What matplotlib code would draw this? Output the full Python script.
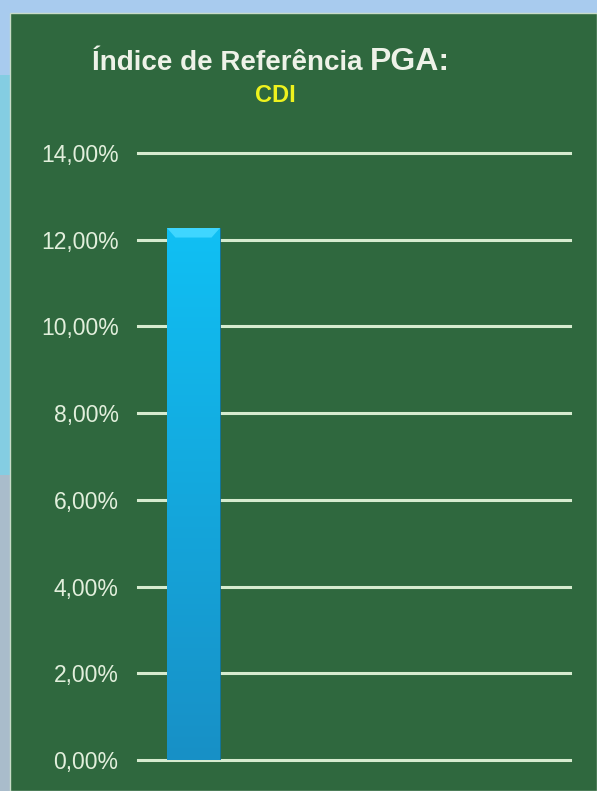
import matplotlib
matplotlib.use("Agg")
import matplotlib.pyplot as plt
from matplotlib.patches import Rectangle, Polygon
from matplotlib.ticker import FuncFormatter
import numpy as np

# dados
categorias = ["CDI"]
valores = [12.27]
yticks = [0, 2, 4, 6, 8, 10, 12, 14]

W, H = 597, 791
fig = plt.figure(figsize=(W / 100, H / 100), dpi=100)
fig.patch.set_facecolor("#a8cbee")
plt.rcParams["font.family"] = ["Liberation Sans", "DejaVu Sans"]

#-- fundo do slide (faixa esquerda)
fig.patches.append(Rectangle((0, 1 - 475 / H), 10 / W, 400 / H, transform=fig.transFigure,
                             facecolor="#84cde2", edgecolor="none", zorder=0))
fig.patches.append(Rectangle((0, 0), 10 / W, 1 - 475 / H, transform=fig.transFigure,
                             facecolor="#a9bccb", edgecolor="none", zorder=0))
#-- painel verde
fig.patches.append(Rectangle((10 / W, 0), 1 - 10 / W, 1 - 13 / H, transform=fig.transFigure,
                             facecolor="#2f683e", edgecolor="#c8dcc8", linewidth=1.0, zorder=1))

x0, x1 = 138, 570
ytop, ybot = 153, 760
ax = fig.add_axes([x0 / W, 1 - ybot / H, (x1 - x0) / W, (ybot - ytop) / H])
ax.set_facecolor("none")
ax.set_zorder(2)

xpos = np.arange(len(categorias))
bars = ax.bar(xpos, valores, width=1.0, color="#14b4ec", edgecolor="#0f6f9a",
              linewidth=0.6, zorder=3)

# gradiente e chanfro no topo da barra
cmap = matplotlib.colors.LinearSegmentedColormap.from_list("cdi", ["#1890c6", "#10c0f4"])
for b in bars:
    bx, bw, bh = b.get_x(), b.get_width(), b.get_height()
    grad = np.linspace(0, 1, 256).reshape(-1, 1)
    im = ax.imshow(grad, extent=[bx, bx + bw, 0, bh], aspect="auto", cmap=cmap,
                   origin="lower", zorder=3.5)
    im.set_clip_path(b)
    bev = 0.22
    top = Polygon([[bx, bh], [bx + bw, bh], [bx + bw * 0.84, bh - bev], [bx + bw * 0.16, bh - bev]],
                  closed=True, facecolor="#3fd6ff", edgecolor="none", zorder=4)
    ax.add_patch(top)

ax.set_xlim(-1.047, 7.104)
ax.set_ylim(0, 14)
ax.set_yticks(yticks)
ax.yaxis.set_major_formatter(FuncFormatter(lambda v, p: ("%.2f%%" % v).replace(".", ",")))
ax.tick_params(axis="y", length=0, pad=14, labelsize=16.5, labelcolor="#e2efdc")
ax.set_xticks([])
ax.grid(axis="y", color="#d6ebcf", linewidth=2.2, zorder=1)
for gl in ax.get_ygridlines():
    gl.set_clip_on(False)
ax.set_axisbelow(True)
for s in ax.spines.values():
    s.set_visible(False)

# titulo
t1 = fig.text(92 / W, 1 - 70 / H, "Índice de Referência ", color="#eef2e8",
              fontsize=20, fontweight="bold", ha="left", va="baseline")
fig.canvas.draw()
bb = t1.get_window_extent()
fig.text(bb.x1 / W, 1 - 70 / H, "PGA:", color="#eef2e8", fontsize=23,
         fontweight="bold", ha="left", va="baseline")
fig.text(275 / W, 1 - 95 / H, categorias[0], color="#eef21e", fontsize=17,
         fontweight="bold", ha="center", va="center")

plt.savefig("out.png", dpi=100, facecolor=fig.get_facecolor())
